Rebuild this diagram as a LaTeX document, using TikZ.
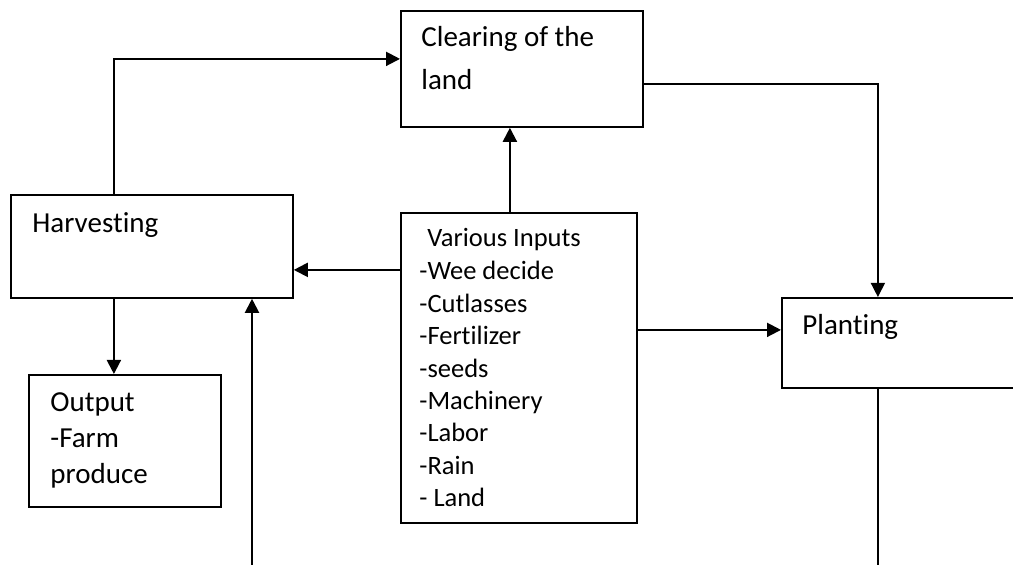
\documentclass[tikz,border=0pt]{standalone}
\usepackage{fontspec}
\setmainfont{Carlito}[RawFeature={-liga;-clig;-dlig;-calt}]
\usetikzlibrary{positioning,arrows.meta}

\tikzset{
  stage/.style={draw, line width=0.9pt, inner sep=0pt, anchor=north west},
  boxtext/.style={anchor=base west, inner sep=0pt, font=\fontsize{14.5}{17}\selectfont},
  listtext/.style={anchor=base west, inner sep=0pt, font=\fontsize{13.25}{16}\selectfont},
  flow/.style={line width=1pt, -{Triangle[length=7pt,width=7pt]}},
  thinflow/.style={line width=0.7pt, -{Triangle[length=7pt,width=7pt]}},
}

\begin{document}
\begin{tikzpicture}[x=0.5pt, y=-0.5pt]
\useasboundingbox (0,0) rectangle (1013,565);

% ===== Boxes =====
\node[stage, minimum width=121pt, minimum height=58pt] (clear) at (400,10) {};
\node[stage, minimum width=141pt, minimum height=51.5pt] (harv) at (10,194) {};
\node[stage, minimum width=118pt, minimum height=155pt] (inp) at (400,212) {};
\node[stage, minimum width=130pt, minimum height=45pt] (plant) at (781,297) {};
\node[stage, minimum width=96pt, minimum height=66pt] (outp) at (28,374) {};

% ===== Texts =====
\foreach \t [count=\k] in {Clearing of the, land}
  \node[boxtext] (clear-\k) at (421,47+43*\k-43) {\t};
\node[boxtext] (harv-1) at (32,233) {Harvesting};
\node[boxtext] (plant-1) at (802,335) {Planting};
\foreach \t [count=\k] in {Output, -Farm, produce}
  \node[boxtext] (outp-\k) at (50,412+36*\k-36) {\t};

% Inputs list
\node[listtext] (inp-0) at (427,247) {Various Inputs};
\foreach \t [count=\k] in {-Wee decide, -Cutlasses, -Fertilizer, -seeds,
                          -Machinery, -Labor, -Rain, - Land}
  \node[listtext] (inp-\k) at (419,280+32.4*\k-32.4) {\t};

% ===== Connectors =====
\coordinate (hUp) at ([xshift=-19pt]harv.north);
\coordinate (cIn) at ([yshift=5pt]clear.west);
\draw[flow] (hUp) |- (cIn);

\coordinate (cOut) at ([yshift=-7.5pt]clear.east);
\coordinate (pIn) at ([xshift=-17pt]plant.north);
\draw[thinflow] (cOut) -| (pIn);

\coordinate (iUp) at ([xshift=-4.5pt]inp.north);
\draw[flow] (iUp) -- (iUp |- clear.south);

\coordinate (iL) at ([yshift=49pt]inp.west);
\draw[flow] (iL) -- (iL -| harv.east);

\coordinate (iR) at ([yshift=19pt]inp.east);
\draw[flow] (iR) -- (iR -| plant.west);

\coordinate (hDown) at ([xshift=-19pt]harv.south);
\draw[flow] (hDown) -- (hDown |- outp.north);

\coordinate (back) at (252,565);
\draw[flow] (back) -- (back |- harv.south);

\coordinate (pDown) at ([xshift=-17pt]plant.south);
\draw[line width=0.7pt] (pDown) -- (pDown |- back);

\end{tikzpicture}
\end{document}
